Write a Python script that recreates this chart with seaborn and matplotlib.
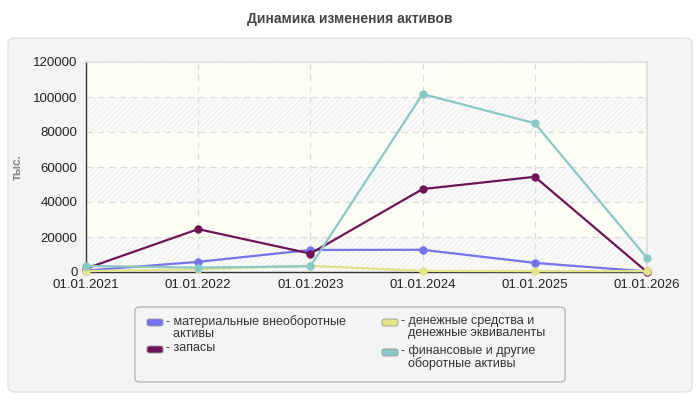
import matplotlib
matplotlib.use("Agg")
import matplotlib.pyplot as plt
from matplotlib.patches import FancyBboxPatch
import pandas as pd
import seaborn as sns

DATES = ['01.01.2021', '01.01.2022', '01.01.2023', '01.01.2024', '01.01.2025', '01.01.2026']
SERIES = ['материальные внеоборотные\nактивы', 'запасы',
          'денежные средства и\nденежные эквиваленты', 'финансовые и другие\nоборотные активы']
tangible = [800, 5800, 12600, 12700, 5200, 300]
stocks = [2000, 24500, 10500, 47400, 54400, 0]
cash = [500, 1500, 3500, 600, 500, 500]
financial = [3500, 2500, 3300, 101700, 85000, 8000]
COLORS = ['#7474ec', '#6e1454', '#e3e38a', '#88c8c6']

rows = []
for name, vals in zip(SERIES, [tangible, stocks, cash, financial]):
    for i, v in enumerate(vals):
        rows.append({'pos': i, 'value': v, 'series': name})
df = pd.DataFrame(rows)

sns.set_theme(style="white")
plt.rcParams['font.family'] = ['Liberation Sans', 'DejaVu Sans']
plt.rcParams['hatch.linewidth'] = 0.6

fig = plt.figure(figsize=(7, 4), dpi=100)
fig.patch.set_facecolor('white')

# outer panel
panel = FancyBboxPatch((8 / 700, 8 / 400), 684 / 700, 354 / 400,
                       boxstyle="round,pad=0,rounding_size=0.012",
                       transform=fig.transFigure, facecolor='#f4f4f4',
                       edgecolor='#e2e2e2', linewidth=1, zorder=-2)
fig.patches.append(panel)

fig.text(0.5, 1 - 19 / 400, 'Динамика изменения активов', ha='center', va='center',
         fontsize=10, fontweight='bold', color='#444444')

ax = fig.add_axes([86 / 700, 1 - 272 / 400, 561 / 700, 210 / 400])
ax.set_zorder(3)
ax.set_facecolor('#fefef7')

# alternating hatched bands
for k in range(6):
    if k % 2 == 0:
        ax.axhspan(k * 20000, (k + 1) * 20000, facecolor='#fafaf8', edgecolor='#ececec',
                   hatch='//////', linewidth=0, zorder=0)

sns.lineplot(data=df, x='pos', y='value', hue='series', palette=COLORS, marker='o',
             markersize=6, markeredgewidth=0, linewidth=1.6, ax=ax, legend=False,
             zorder=3, clip_on=False)

ax.set_xlim(0, 5)
ax.set_ylim(0, 120000)
ax.set_xticks(range(len(DATES)))
ax.set_xticklabels(DATES)
ax.set_yticks(range(0, 120001, 20000))
ax.tick_params(axis='both', labelsize=9.5, colors='#222222', length=4, width=1, pad=2)
ax.tick_params(axis='x', pad=1)
ax.grid(True, color='#dcdcdc', linestyle=(0, (5, 4)), linewidth=0.9)
ax.set_axisbelow(True)
for s in ['top', 'right']:
    ax.spines[s].set_color('#dddddd')
for s in ['left', 'bottom']:
    ax.spines[s].set_color('#333333')
    ax.spines[s].set_linewidth(1)
ax.set_xlabel('')
ax.set_ylabel('')
fig.text(18 / 700, 1 - 167 / 400, 'тыс.', rotation=90, ha='center', va='center',
         fontsize=8.5, fontweight='bold', color='#888888')

# legend box
lg = FancyBboxPatch((135 / 700, 1 - 382 / 400), 430 / 700, 75 / 400,
                    boxstyle="round,pad=0,rounding_size=0.008",
                    transform=fig.transFigure, facecolor='#f4f4f4',
                    edgecolor='#aaaaaa', linewidth=0.8, zorder=-1)
fig.patches.append(lg)

entries = [(147, 322, 0), (147, 349, 1), (382, 322, 2), (382, 352, 3)]
for x, y, i in entries:
    fig.patches.append(FancyBboxPatch((x / 700, 1 - (y + 4) / 400), 16 / 700, 7 / 400,
                                      boxstyle="round,pad=0,rounding_size=0.004",
                                      transform=fig.transFigure, facecolor=COLORS[i],
                                      edgecolor='#999999', linewidth=0.6, zorder=0))
    fig.text((x + 19) / 700, 1 - (y - 7) / 400, '- ' + SERIES[i].replace('\n', '\n  '),
             ha='left', va='top', fontsize=9, color='#333333', linespacing=1.05)

plt.savefig('out.png', dpi=100)
